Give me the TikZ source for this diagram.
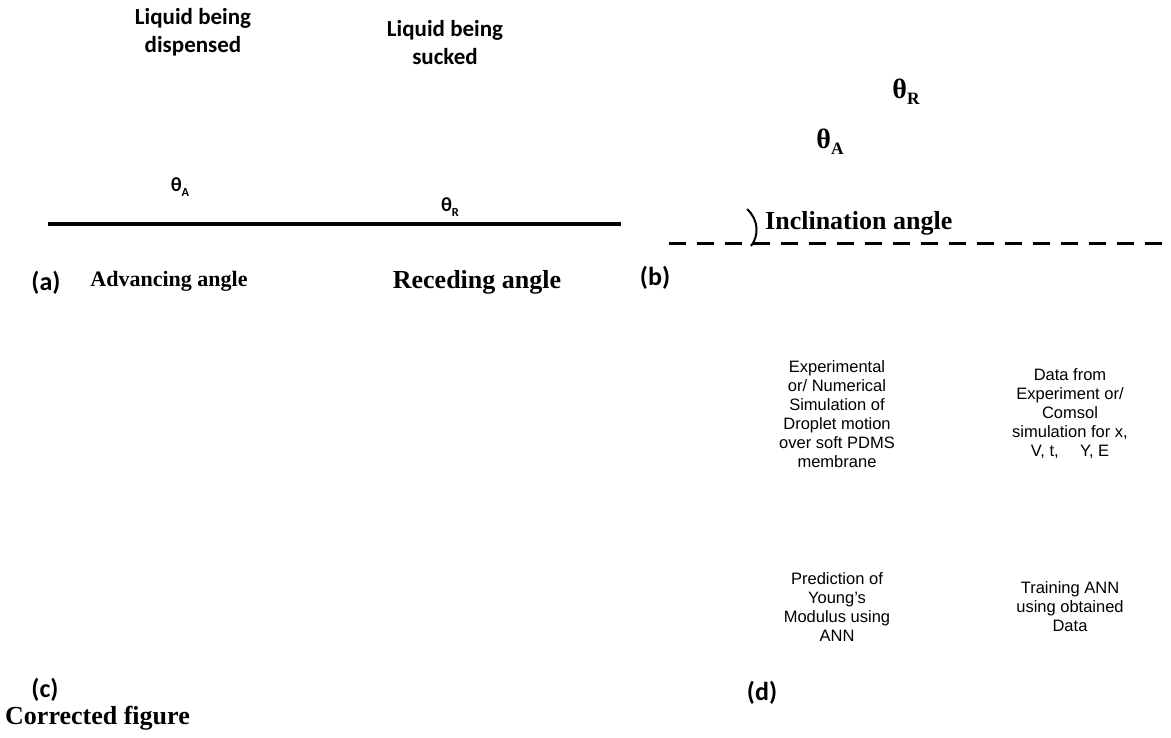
\documentclass[tikz,border=0pt]{standalone}
\usepackage{fontspec}
\usepackage{graphicx}
\setmainfont{Liberation Serif}
\newfontfamily\calfont{Carlito}
\newfontfamily\arifont{Liberation Sans}
\usetikzlibrary{positioning}

\newcommand{\lowsub}[1]{\raisebox{-0.45ex}{\scalebox{0.62}{#1}}}

\tikzset{
  liquid/.style={font=\calfont\bfseries\fontsize{23}{28}\selectfont, align=center, inner sep=0pt},
  thetaa/.style={font=\calfont\bfseries\fontsize{20}{22}\selectfont, inner sep=0pt},
  thetab/.style={font=\bfseries\fontsize{28}{30}\selectfont, inner sep=0pt},
  angname/.style={font=\bfseries\fontsize{26}{30}\selectfont, inner sep=0pt},
  panel/.style={font=\calfont\bfseries\fontsize{26}{30}\selectfont, inner sep=0pt},
  flowtext/.style={font=\arifont\fontsize{16.5}{19}\selectfont, align=center, inner sep=0pt}
}

\begin{document}
\begin{tikzpicture}[x=1pt, y=-1pt]
    \useasboundingbox (0,0) rectangle (1171,737);

    % (a) advancing and receding
    \node[liquid] (dispensed) at (193,32) {Liquid being\\dispensed};
    \node[liquid] (sucked) at (445,43) {Liquid being\\sucked};
    \node[thetaa] (thetaA) at (180,187) {θ\lowsub{A}};
    \node[thetaa] (thetaR) at (450,207) {θ\lowsub{R}};
    \draw[line width=3.5pt] (48,224) -- (621,224);
    \node[panel] (panelA) at (46,283) {(a)};
    \node[angname, font=\bfseries\fontsize{22}{26}\selectfont] (advancing) at (169,281) {Advancing angle};
    \node[angname] (receding) at (477,282) {Receding angle};

    % (b) inclined surface
    \node[thetab] (thetaRb) at (906,92) {θ\lowsub{R}};
    \node[thetab] (thetaAb) at (830,142) {θ\lowsub{A}};
    \draw[line width=3pt, dash pattern=on 17pt off 11pt] (669,243) -- (1166,243);
    \draw[line width=2pt] (747,209) .. controls (759,220) and (759,236) .. (751,246);
    \node[angname, anchor=west] (inclination) at (765,223) {Inclination angle};
    \node[panel] (panelB) at (655,278) {(b)};

    % (d) flow steps
    \node[flowtext] (experiment) at (837,414) {Experimental\\or/ Numerical\\Simulation of\\Droplet motion\\over soft PDMS\\membrane};
    \node[flowtext] (data) at (1070,414) {Data from\\Experiment or/\\Comsol\\simulation for x,\\V, t,\hspace{1.3em}Y, E};
    \node[flowtext] (prediction) at (837,607) {Prediction of\\Young’s\\Modulus using\\ANN};
    \node[flowtext] (training) at (1070,607) {Training ANN\\using obtained\\Data};

    % panel labels
    \node[panel] (panelC) at (45,690) {(c)};
    \node[panel] (panelD) at (762,693) {(d)};
    \node[angname, anchor=west] (corrected) at (5,718) {Corrected figure};
\end{tikzpicture}
\end{document}
